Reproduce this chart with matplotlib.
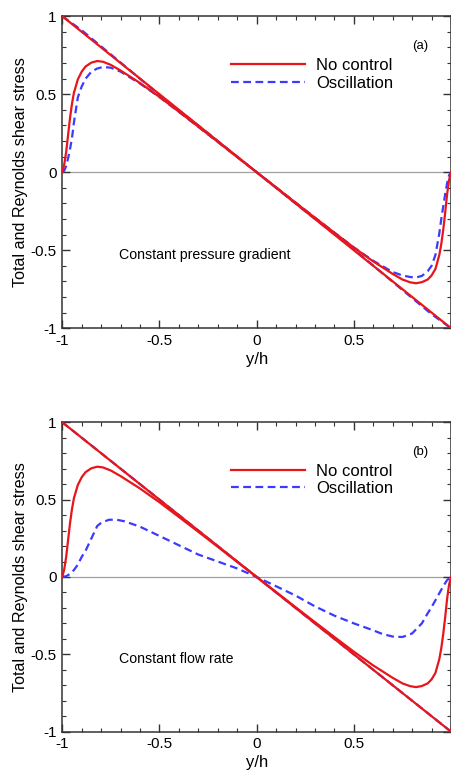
import matplotlib
matplotlib.use("Agg")
import matplotlib.pyplot as plt
from matplotlib.ticker import MultipleLocator

plt.rcParams['font.family'] = ['Liberation Sans', 'DejaVu Sans']

# y/h positions for the total shear stress lines
total_y = [-1.0, -0.9, -0.75, -0.5, -0.25, 0.0, 0.25, 0.5, 0.75, 0.9, 1.0]
total_nc = [1.0, 0.9, 0.75, 0.5, 0.25, 0.0, -0.25, -0.5, -0.75, -0.9, -1.0]
total_osc_a = [1.0, 0.91, 0.755, 0.495, 0.25, 0.0, -0.25, -0.495, -0.755, -0.91, -1.0]
total_osc_b = [1.0, 0.9, 0.75, 0.5, 0.25, 0.0, -0.25, -0.5, -0.75, -0.9, -1.0]

# Reynolds shear stress, no control (same in both panels)
rs_y = [-1.0, -0.99, -0.98, -0.97, -0.96, -0.95, -0.94, -0.92, -0.90, -0.88, -0.85,
        -0.82, -0.79, -0.75, -0.70, -0.60, -0.50, -0.40, -0.30, -0.20, -0.10, 0.0,
        0.10, 0.20, 0.30, 0.40, 0.50, 0.60, 0.70, 0.75, 0.79, 0.82, 0.85, 0.88,
        0.90, 0.92, 0.94, 0.95, 0.96, 0.97, 0.98, 0.99, 1.0]
rs_nc = [0.0, 0.05, 0.13, 0.24, 0.35, 0.44, 0.51, 0.595, 0.645, 0.678, 0.703,
         0.713, 0.708, 0.688, 0.652, 0.572, 0.483, 0.388, 0.292, 0.195, 0.097, 0.0,
         -0.097, -0.195, -0.292, -0.388, -0.483, -0.572, -0.652, -0.688, -0.706,
         -0.712, -0.705, -0.688, -0.662, -0.62, -0.53, -0.46, -0.37, -0.26, -0.14,
         -0.05, 0.0]

# Reynolds shear stress, oscillation, constant pressure gradient
rs_osc_a = [0.0, 0.01, 0.04, 0.09, 0.15, 0.22, 0.32, 0.48, 0.55, 0.60, 0.645,
            0.665, 0.675, 0.67, 0.645, 0.568, 0.482, 0.387, 0.291, 0.194, 0.097, 0.0,
            -0.097, -0.194, -0.291, -0.387, -0.482, -0.568, -0.64, -0.662, -0.672,
            -0.675, -0.665, -0.635, -0.60, -0.53, -0.39, -0.30, -0.22, -0.14, -0.07,
            -0.02, 0.0]

# Reynolds shear stress, oscillation, constant flow rate
rs_osc_b_y = [-1.0, -0.98, -0.96, -0.94, -0.92, -0.90, -0.88, -0.85, -0.82, -0.80,
              -0.76, -0.72, -0.68, -0.60, -0.50, -0.40, -0.30, -0.20, -0.10, 0.0,
              0.10, 0.20, 0.30, 0.40, 0.50, 0.60, 0.65, 0.70, 0.75, 0.80, 0.85,
              0.88, 0.90, 0.92, 0.94, 0.96, 0.98, 1.0]
rs_osc_b = [0.0, 0.005, 0.02, 0.045, 0.08, 0.13, 0.17, 0.25, 0.33, 0.35,
            0.37, 0.37, 0.36, 0.325, 0.265, 0.205, 0.145, 0.10, 0.055, 0.0,
            -0.06, -0.12, -0.19, -0.25, -0.30, -0.345, -0.37, -0.385, -0.388,
            -0.365, -0.30, -0.235, -0.195, -0.15, -0.105, -0.06, -0.02, 0.0]

red = '#e8151b'
blue = '#3b3bff'
dash = (3.5, 2.0)

fig = plt.figure(figsize=(4.52, 7.74), dpi=100)
ax_a = fig.add_axes([0.1378, 0.576, 0.860, 0.403])
ax_b = fig.add_axes([0.1378, 0.0547, 0.860, 0.3997])

panels = [
    (ax_a, total_osc_a, rs_y, rs_osc_a, '(a)', 'Constant pressure gradient'),
    (ax_b, total_osc_b, rs_osc_b_y, rs_osc_b, '(b)', 'Constant flow rate'),
]

for ax, tot_osc, osc_y, osc_vals, tag, note in panels:
    ax.axhline(0, color='#a0a0a0', lw=0.9, zorder=1)
    ax.plot(total_y, total_nc, color=red, lw=1.6, zorder=3, label='No control')
    ax.plot(rs_y, rs_nc, color=red, lw=1.6, zorder=3)
    ax.plot(total_y, tot_osc, color=blue, lw=1.6, dashes=dash, zorder=2,
            label='Oscillation')
    ax.plot(osc_y, osc_vals, color=blue, lw=1.6, dashes=dash, zorder=2)

    ax.set_xlim(-1, 1)
    ax.set_ylim(-1, 1)
    ax.xaxis.set_minor_locator(MultipleLocator(0.1))
    ax.yaxis.set_minor_locator(MultipleLocator(0.1))
    ax.set_xticks([-1, -0.5, 0, 0.5, 1])
    ax.set_xticklabels(['-1', '-0.5', '0', '0.5', ''])
    ax.set_yticks([-1, -0.5, 0, 0.5, 1])
    ax.set_yticklabels(['-1', '-0.5', '0', '0.5', '1'])
    ax.tick_params(which='both', direction='in', top=True, right=True,
                   labelsize=11, pad=4, color='#333333')
    ax.tick_params(which='major', length=6, width=1.0)
    ax.tick_params(which='minor', length=3, width=0.8)
    for s in ax.spines.values():
        s.set_linewidth(1.1)
        s.set_color('#333333')

    ax.set_xlabel('y/h', fontsize=12, labelpad=3)
    ax.set_ylabel('Total and Reynolds shear stress', fontsize=11.6, labelpad=2)

    ax.text(0.92, 0.905, tag, transform=ax.transAxes, fontsize=9.5,
            ha='center', va='center')
    ax.text(0.146, 0.235, note, transform=ax.transAxes, fontsize=10.2,
            ha='left', va='center')

    ax.legend(loc='upper left', bbox_to_anchor=(0.435, 0.866), frameon=False,
              fontsize=12, handlelength=4.4, handletextpad=0.7,
              labelspacing=0.15, borderpad=0, borderaxespad=0)

fig.savefig('out.png', dpi=100)
